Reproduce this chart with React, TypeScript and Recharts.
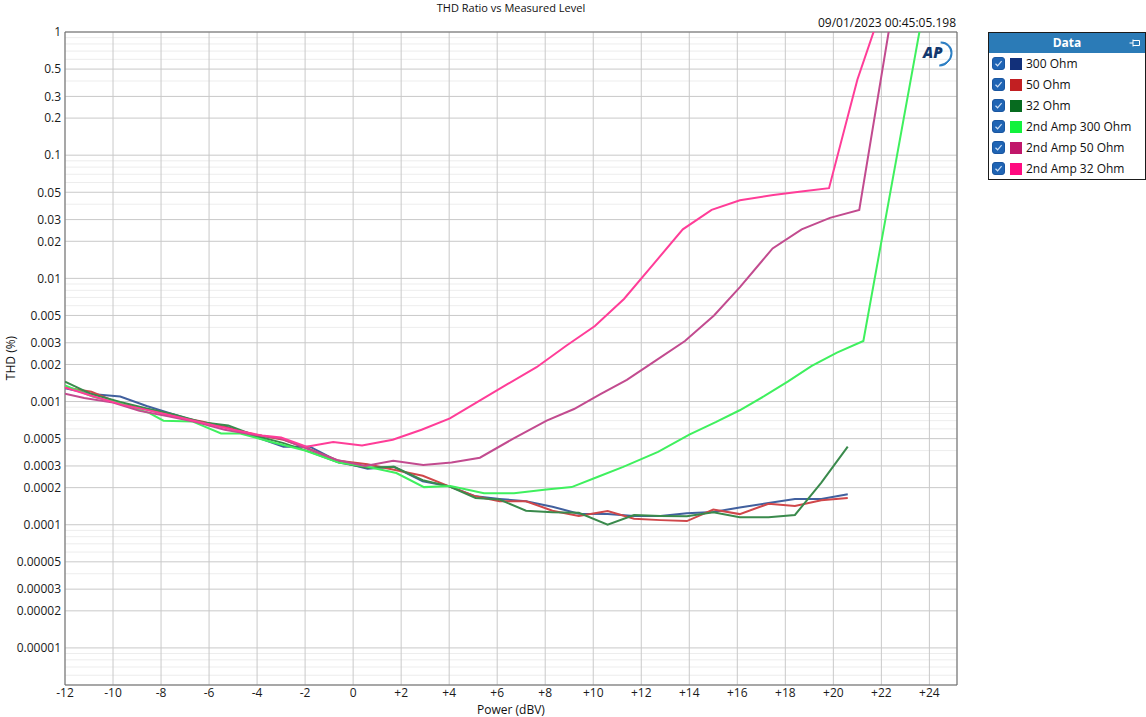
import { LineChart, Line, XAxis, YAxis, CartesianGrid, ReferenceArea } from 'recharts';

// measured level (dBV) and THD for each trace
const LEVEL_MAIN = [-12, -10.9, -9.7, -8.6, -7.5, -6.3, -5.2, -4.1, -2.9, -1.8, -0.6, 0.6, 1.7, 2.9, 4.0, 5.1, 6.1, 7.2, 8.3, 9.4, 10.6, 11.7, 12.8, 13.9, 15.0, 16.1, 17.3, 18.4, 19.5, 20.6];
const THD_300 = [1.28e-3, 1.15e-3, 1.1e-3, 9.2e-4, 7.9e-4, 6.7e-4, 6.2e-4, 5.2e-4, 4.3e-4, 4.3e-4, 3.25e-4, 2.85e-4, 2.95e-4, 2.25e-4, 2.05e-4, 1.7e-4, 1.62e-4, 1.55e-4, 1.4e-4, 1.23e-4, 1.22e-4, 1.18e-4, 1.18e-4, 1.24e-4, 1.27e-4, 1.38e-4, 1.5e-4, 1.62e-4, 1.62e-4, 1.77e-4];
const THD_50 = [1.3e-3, 1.2e-3, 9.6e-4, 8.6e-4, 7.6e-4, 6.9e-4, 6.1e-4, 5.4e-4, 4.9e-4, 4.1e-4, 3.3e-4, 3.1e-4, 2.8e-4, 2.5e-4, 2.05e-4, 1.7e-4, 1.55e-4, 1.55e-4, 1.3e-4, 1.18e-4, 1.29e-4, 1.12e-4, 1.09e-4, 1.07e-4, 1.33e-4, 1.22e-4, 1.48e-4, 1.42e-4, 1.58e-4, 1.65e-4];
const THD_32 = [1.45e-3, 1.15e-3, 9.9e-4, 8.8e-4, 7.9e-4, 6.8e-4, 6.4e-4, 5.3e-4, 4.6e-4, 3.9e-4, 3.2e-4, 2.9e-4, 2.95e-4, 2.3e-4, 2.05e-4, 1.65e-4, 1.6e-4, 1.3e-4, 1.26e-4, 1.25e-4, 1.0e-4, 1.2e-4, 1.18e-4, 1.17e-4, 1.26e-4, 1.15e-4, 1.15e-4, 1.2e-4, 2.2e-4, 4.3e-4];

const LEVEL_2A300 = [-12, -10.85, -9.7, -8.5, -7.9, -6.7, -5.5, -4.7, -3.4, -2.0, -0.6, 0.55, 1.8, 2.95, 4.05, 5.45, 6.7, 8.05, 9.1, 10.2, 11.25, 12.7, 14.0, 15.1, 16.1, 17.1, 18.1, 19.1, 20.15, 21.25, 24.0];
const THD_2A300 = [1.35e-3, 1.1e-3, 9.6e-4, 8.1e-4, 7.0e-4, 6.9e-4, 5.5e-4, 5.5e-4, 4.7e-4, 4.0e-4, 3.2e-4, 2.97e-4, 2.63e-4, 2.02e-4, 2.06e-4, 1.8e-4, 1.8e-4, 1.93e-4, 2.02e-4, 2.45e-4, 2.95e-4, 3.9e-4, 5.4e-4, 6.8e-4, 8.5e-4, 1.1e-3, 1.45e-3, 1.95e-3, 2.5e-3, 3.1e-3, 2.8];

const LEVEL_2A50 = [-12, -11.2, -10.0, -8.9, -7.7, -6.5, -5.35, -4.2, -3.0, -1.84, -0.67, 0.5, 1.67, 2.92, 4.1, 5.28, 6.67, 8.06, 9.2, 10.3, 11.4, 12.6, 13.82, 15.03, 16.11, 17.47, 18.68, 19.86, 21.08, 22.4];
const THD_2A50 = [1.16e-3, 1.07e-3, 9.8e-4, 8.4e-4, 7.6e-4, 6.8e-4, 5.9e-4, 5.4e-4, 5.0e-4, 4.1e-4, 3.35e-4, 3.0e-4, 3.3e-4, 3.06e-4, 3.2e-4, 3.5e-4, 5.0e-4, 7.0e-4, 8.7e-4, 1.15e-3, 1.5e-3, 2.15e-3, 3.1e-3, 5.0e-3, 8.5e-3, 1.75e-2, 2.5e-2, 3.1e-2, 3.6e-2, 1.3];

const LEVEL_2A32 = [-12, -10.8, -9.6, -8.4, -7.3, -6.1, -5.0, -3.8, -3.0, -1.94, -0.83, 0.37, 1.65, 2.85, 4.03, 5.2, 6.39, 7.64, 8.89, 10.07, 11.28, 12.5, 13.73, 14.93, 16.11, 17.5, 18.75, 19.82, 21.0, 22.2];
const THD_2A32 = [1.3e-3, 1.1e-3, 9.4e-4, 8.4e-4, 7.5e-4, 6.6e-4, 5.9e-4, 5.3e-4, 5.1e-4, 4.3e-4, 4.7e-4, 4.4e-4, 4.9e-4, 5.9e-4, 7.3e-4, 1.0e-3, 1.37e-3, 1.9e-3, 2.85e-3, 4.1e-3, 6.8e-3, 1.3e-2, 2.5e-2, 3.6e-2, 4.3e-2, 4.75e-2, 5.1e-2, 5.4e-2, 0.41, 2.0];

const X_TICKS = [-12, -10, -8, -6, -4, -2, 0, 2, 4, 6, 8, 10, 12, 14, 16, 18, 20, 22, 24];
const Y_TICKS = [0.00001, 0.00002, 0.00003, 0.00005, 0.0001, 0.0002, 0.0003, 0.0005, 0.001, 0.002, 0.003, 0.005, 0.01, 0.02, 0.03, 0.05, 0.1, 0.2, 0.3, 0.5, 1];
const Y_MINOR = [
  0.000006, 0.000007, 0.000008, 0.000009,
  0.00004, 0.00006, 0.00007, 0.00008, 0.00009,
  0.0004, 0.0006, 0.0007, 0.0008, 0.0009,
  0.004, 0.006, 0.007, 0.008, 0.009,
  0.04, 0.06, 0.07, 0.08, 0.09,
  0.4, 0.6, 0.7, 0.8, 0.9,
];

const X_MIN = -12;
const X_MAX = 25.15;
const Y_MIN = 0.000005;
const Y_MAX = 1;

const zip = (xs: number[], ys: number[]) => xs.map((x, i) => ({ x, y: ys[i] }));

const SERIES = [
  { name: '300 Ohm', data: zip(LEVEL_MAIN, THD_300), stroke: '#41609e', swatch: '#12307a' },
  { name: '50 Ohm', data: zip(LEVEL_MAIN, THD_50), stroke: '#d0474a', swatch: '#c21f22' },
  { name: '32 Ohm', data: zip(LEVEL_MAIN, THD_32), stroke: '#3a8a4c', swatch: '#076b1f' },
  { name: '2nd Amp 300 Ohm', data: zip(LEVEL_2A300, THD_2A300), stroke: '#3ff05e', swatch: '#12f23c' },
  { name: '2nd Amp 50 Ohm', data: zip(LEVEL_2A50, THD_2A50), stroke: '#c24b8f', swatch: '#c0176a' },
  { name: '2nd Amp 32 Ohm', data: zip(LEVEL_2A32, THD_2A32), stroke: '#ff3d98', swatch: '#ff0a80' },
];

const FONT = '"Open Sans", "Noto Sans", sans-serif';

const minorLines = ({ yAxis }: any) => {
  const s = yAxis?.scale;
  if (!s) return [];
  const f = typeof s === 'function' ? s : s.map ? (v: number) => s.map(v) : null;
  if (!f) return [];
  return Y_MINOR.map(v => f(v));
};

function CheckBox() {
  return (
    <svg width={13} height={13} style={{ display: 'block' }}>
      <rect x={0.5} y={0.5} width={12} height={12} rx={2.5} fill="#1f64b4" stroke="#1a56a0" />
      <path d="M3.5 6.8 L5.6 8.8 L9.6 4.2" stroke="#cfe0f5" strokeWidth={1.2} fill="none" />
    </svg>
  );
}

function DataLegend() {
  return (
    <div
      style={{
        position: 'absolute', left: 988, top: 32, width: 156, height: 146,
        border: '1px solid #1b1b1b', background: '#fff', fontFamily: FONT, fontSize: 12,
      }}
    >
      <div
        style={{
          height: 20, background: '#2b7bb7', color: '#fff', fontWeight: 700,
          textAlign: 'center', lineHeight: '20px', position: 'relative',
        }}
      >
        Data
        <svg width={12} height={10} style={{ position: 'absolute', right: 4, top: 5 }}>
          <path d="M0.5 5 H4 M4 1.5 V8.5 M4 2.5 H10.5 V7.5 H4" stroke="#fff" strokeWidth={1} fill="none" />
        </svg>
      </div>
      {SERIES.map(s => (
        <div key={s.name} style={{ display: 'flex', alignItems: 'center', height: 21, paddingLeft: 3 }}>
          <CheckBox />
          <div style={{ width: 12, height: 12, background: s.swatch, marginLeft: 5, marginRight: 4 }} />
          <span style={{ color: '#111', whiteSpace: 'nowrap' }}>{s.name}</span>
        </div>
      ))}
    </div>
  );
}

export default function App() {
  return (
    <div style={{ position: 'absolute', left: 0, top: 0, width: 1146, height: 717, background: '#fff', fontFamily: FONT }}>
      <div style={{ position: 'absolute', left: 0, width: 1022, top: 0, textAlign: 'center', fontSize: 11, color: '#111' }}>
        THD Ratio vs Measured Level
      </div>
      <div style={{ position: 'absolute', right: 1146 - 956, top: 14, fontSize: 12, color: '#111' }}>
        09/01/2023 00:45:05.198
      </div>
      <div
        style={{
          position: 'absolute', left: 10, top: 358, transform: 'translate(-50%, -50%) rotate(-90deg)',
          fontSize: 12, color: '#111', whiteSpace: 'nowrap',
        }}
      >
        THD (%)
      </div>

      <LineChart width={1146} height={717} margin={{ top: 32, right: 189, bottom: 0, left: 0 }}>
        <CartesianGrid
          stroke="#ededed"
          vertical={false}
          horizontalCoordinatesGenerator={minorLines}
        />
        <CartesianGrid stroke="#c9c9c9" />
        <XAxis
          type="number"
          dataKey="x"
          domain={[X_MIN, X_MAX]}
          ticks={X_TICKS}
          interval={0}
          allowDataOverflow
          height={32}
          axisLine={false}
          tickLine={false}
          tickSize={3}
          tickMargin={0}
          tick={{ fontSize: 12, fill: '#1a1a1a', fontFamily: FONT }}
          tickFormatter={(v: number) => (v > 0 ? `+${v}` : `${v}`)}
          label={{ value: 'Power (dBV)', position: 'insideBottom', offset: 3, fontSize: 12, fill: '#111', fontFamily: FONT }}
        />
        <YAxis
          type="number"
          dataKey="y"
          scale="log"
          domain={[Y_MIN, Y_MAX]}
          ticks={Y_TICKS}
          interval={0}
          allowDataOverflow
          width={65}
          axisLine={false}
          tickLine={false}
          tickSize={4}
          tickMargin={0}
          tick={{ fontSize: 12, fill: '#1a1a1a', fontFamily: FONT }}
          tickFormatter={(v: number) => String(v)}
        />
        {SERIES.map(s => (
          <Line
            key={s.name}
            data={s.data}
            dataKey="y"
            name={s.name}
            stroke={s.stroke}
            strokeWidth={2}
            dot={false}
            activeDot={false}
            isAnimationActive={false}
          />
        ))}
        <ReferenceArea x1={X_MIN} x2={X_MAX} y1={Y_MIN} y2={Y_MAX} fill="none" stroke="#6a6a6a" strokeWidth={1} />
      </LineChart>

      <div style={{ position: 'absolute', left: 921, top: 42, width: 30, height: 22 }}>
        <div
          style={{
            position: 'absolute', left: 6, top: 0, width: 22, height: 20, borderRadius: '50%',
            border: '2px solid #2f80c4', borderLeftColor: 'transparent', borderTopColor: 'transparent',
            transform: 'rotate(-45deg)',
          }}
        />
        <span
          style={{
            position: 'absolute', left: 2, top: 0, fontStyle: 'italic', fontWeight: 800,
            fontSize: 15, color: '#12386e', lineHeight: '20px', fontFamily: FONT,
          }}
        >
          AP
        </span>
      </div>

      <DataLegend />
    </div>
  );
}
